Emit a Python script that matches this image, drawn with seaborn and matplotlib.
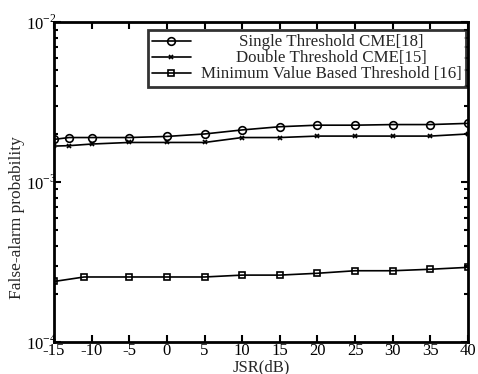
import matplotlib
matplotlib.use("Agg")
import matplotlib.pyplot as plt
import seaborn as sns
import pandas as pd
import numpy as np
from matplotlib.ticker import LogLocator, FuncFormatter, NullFormatter, FixedLocator

# ---- data ----
x_single = [-15, -13, -10, -5, 0, 5, 10, 15, 20, 25, 30, 35, 40]
y_single = [1.85e-3, 1.90e-3, 1.90e-3, 1.90e-3, 1.93e-3, 2.00e-3, 2.12e-3, 2.22e-3,
            2.27e-3, 2.27e-3, 2.29e-3, 2.29e-3, 2.33e-3]
x_double = [-15, -13, -10, -5, 0, 5, 10, 15, 20, 25, 30, 35, 40]
y_double = [1.68e-3, 1.69e-3, 1.73e-3, 1.77e-3, 1.77e-3, 1.77e-3, 1.90e-3, 1.90e-3,
            1.94e-3, 1.94e-3, 1.94e-3, 1.94e-3, 2.00e-3]
x_min = [-15, -11, -5, 0, 5, 10, 15, 20, 25, 30, 35, 40]
y_min = [2.39e-4, 2.55e-4, 2.55e-4, 2.55e-4, 2.55e-4, 2.62e-4, 2.62e-4, 2.69e-4,
         2.79e-4, 2.79e-4, 2.85e-4, 2.93e-4]
labels = ["Single Threshold CME[18]", "Double Threshold CME[15]",
          "Minimum Value Based Threshold [16]"]
x_ticks = [-15, -10, -5, 0, 5, 10, 15, 20, 25, 30, 35, 40]

sns.set_style("ticks")
plt.rcParams["font.family"] = ["Liberation Serif", "DejaVu Serif"]
plt.rcParams["mathtext.fontset"] = "custom"
plt.rcParams["mathtext.rm"] = "Liberation Serif"
plt.rcParams["axes.unicode_minus"] = False

fig = plt.figure(figsize=(4.78, 3.74), dpi=100)
ax = fig.add_axes([0.113, 0.0856, 0.866, 0.855])

series = [
    (x_single, y_single, labels[0], "o", 5.5),
    (x_double, y_double, labels[1], "x", 3.5),
    (x_min, y_min, labels[2], "s", 5.0),
]
for xs, ys, lab, mk, ms in series:
    df = pd.DataFrame({"x": xs, "y": ys})
    sns.lineplot(data=df, x="x", y="y", ax=ax, color="black", linewidth=1.2,
                 marker=mk, markersize=ms, markerfacecolor="none",
                 markeredgecolor="black", markeredgewidth=1.2, label=lab)

ax.set_yscale("log")
ax.set_ylim(1e-4, 1e-2)
ax.set_xlim(-15, 40)
ax.xaxis.set_major_locator(FixedLocator(x_ticks))
ax.yaxis.set_major_locator(LogLocator(base=10, numticks=5))
ax.yaxis.set_major_formatter(FuncFormatter(
    lambda v, p: r"$\mathrm{10}^{\mathrm{-%d}}$" % round(-np.log10(v))))
ax.yaxis.set_minor_locator(LogLocator(base=10, subs=np.arange(2, 10), numticks=20))
ax.yaxis.set_minor_formatter(NullFormatter())

ax.tick_params(axis="both", which="both", direction="in", top=True, right=True,
               labelsize=12, colors="black", width=1.5)
ax.tick_params(axis="both", which="major", length=5)
ax.tick_params(axis="y", which="minor", length=3)
ax.tick_params(axis="x", pad=1)
ax.tick_params(axis="y", pad=-2)
for s in ax.spines.values():
    s.set_linewidth(2)
    s.set_color("black")

ax.set_xlabel("JSR(dB)", fontsize=12, labelpad=0)
ax.set_ylabel("False-alarm probability", fontsize=12.5)
ax.yaxis.set_label_coords(-0.07, 0.39)

leg = ax.legend(loc="upper right", fontsize=12.2, frameon=True, fancybox=False,
                borderpad=0.25, labelspacing=0.0, handlelength=2.3,
                handletextpad=0.6, borderaxespad=0.0,
                bbox_to_anchor=(0.995, 0.975))
leg.get_frame().set_edgecolor("black")
leg.get_frame().set_linewidth(2)

# centre the legend texts within the text column, as in the reference
fig.canvas.draw()
texts = leg.get_texts()
widths = [t.get_window_extent().width for t in texts]
wmax = max(widths)
for t, w in zip(texts, widths):
    t.set_x((wmax - w) / 2.0)

fig.savefig("out.png", dpi=100)
